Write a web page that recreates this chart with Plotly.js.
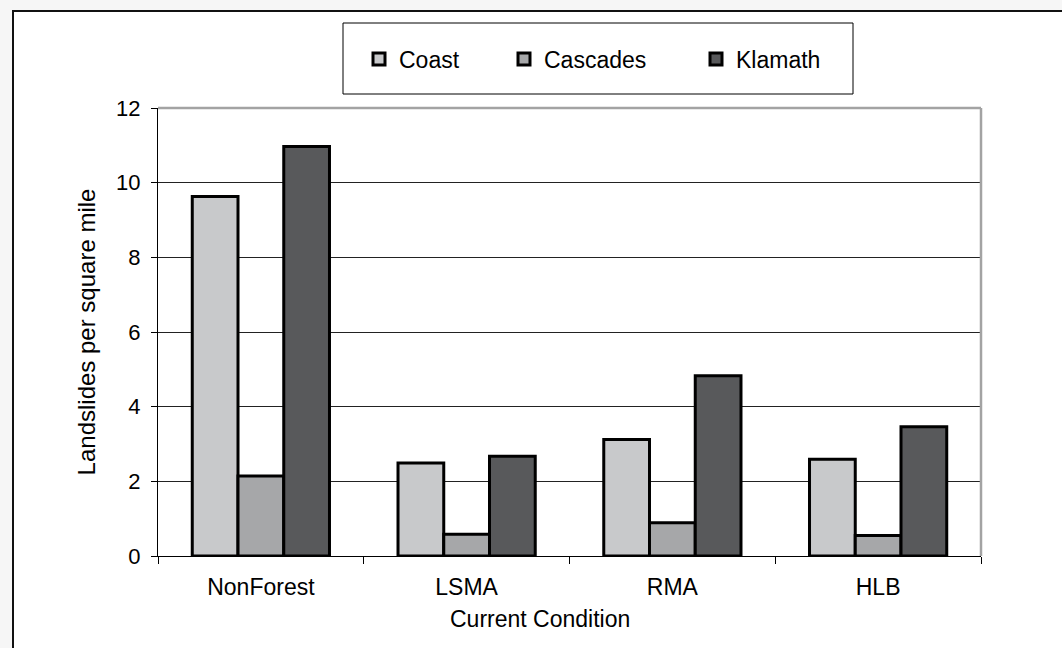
<!DOCTYPE html>
<html>
<head>
<meta charset="utf-8">
<script src="https://cdn.plot.ly/plotly-3.0.1.min.js"></script>
<style>
  html, body { margin: 0; padding: 0; background: #f6f6f6; overflow: hidden; }
  #frame { position: absolute; left: 12px; top: 10px; width: 1100px; height: 700px;
           background: #ffffff; border-top: 2px solid #111; border-left: 2px solid #111; }
  #chart { position: absolute; left: 0; top: 0; width: 1062px; height: 648px; }
</style>
</head>
<body>
<div id="frame"></div>
<div id="chart"></div>
<script>
const categories = ['NonForest', 'LSMA', 'RMA', 'HLB'];
const seriesNames = ['Coast', 'Cascades', 'Klamath'];
const coast = [9.63, 2.49, 3.12, 2.59];
const cascades = [2.14, 0.58, 0.89, 0.55];
const klamath = [10.97, 2.67, 4.83, 3.46];
const yTickValues = [0, 2, 4, 6, 8, 10, 12];
const yTitle = 'Landslides per square mile';
const xTitle = 'Current Condition';

const colors = ['#c8c9cb', '#a6a7a9', '#58595b'];
const values = [coast, cascades, klamath];
const legendIds = ['legend', 'legend2', 'legend3'];

const FONT = 'Liberation Sans, Arial, Helvetica, sans-serif';

// plot area in pixels
const L = 158, R = 81, T = 108, B = 92;
const W = 1062, H = 648;
const pw = W - L - R, ph = H - T - B;
const px = x => (x - L) / pw;
const py = y => (H - B - y) / ph;

const traces = seriesNames.map((name, i) => ({
  type: 'bar',
  name: name,
  x: categories,
  y: values[i],
  legend: legendIds[i],
  marker: { color: colors[i], line: { color: '#000', width: 3 } },
  hoverinfo: 'x+y+name'
}));

const legendX = [379, 524, 716];
const legendCommon = {
  orientation: 'h', xanchor: 'left', yanchor: 'middle',
  bgcolor: 'rgba(0,0,0,0)', borderwidth: 0,
  font: { family: FONT, size: 23, color: '#000' }
};

const layout = {
  width: W, height: H,
  margin: { l: L, r: R, t: T, b: B, pad: 0 },
  paper_bgcolor: 'rgba(0,0,0,0)',
  plot_bgcolor: 'rgba(0,0,0,0)',
  font: { family: FONT, color: '#000' },
  barmode: 'group',
  bargap: 0.333,
  bargroupgap: 0,
  showlegend: true,
  legend: Object.assign({}, legendCommon, { x: px(legendX[0] - 20), y: py(59) }),
  legend2: Object.assign({}, legendCommon, { x: px(legendX[1] - 20), y: py(59) }),
  legend3: Object.assign({}, legendCommon, { x: px(legendX[2] - 20), y: py(59) }),
  xaxis: {
    type: 'category',
    showline: true, linecolor: '#000', linewidth: 1,
    ticks: 'outside', tickson: 'boundaries', ticklen: 7, tickcolor: '#000', tickwidth: 1,
    showgrid: false, zeroline: false,
    tickfont: { family: FONT, size: 23, color: '#000' },
    ticklabelstandoff: 10,
    fixedrange: true
  },
  yaxis: {
    range: [0, 12],
    tickvals: yTickValues,
    ticktext: yTickValues.map(String),
    showline: true, linecolor: '#000', linewidth: 1,
    ticks: 'outside', ticklen: 6, tickcolor: '#000', tickwidth: 1,
    showgrid: true, gridcolor: '#222', gridwidth: 1,
    zeroline: false,
    tickfont: { family: FONT, size: 22, color: '#000' },
    ticklabelstandoff: 6,
    title: { text: yTitle, font: { family: FONT, size: 24, color: '#000' }, standoff: 13 },
    fixedrange: true
  },
  annotations: [{
    text: xTitle, xref: 'paper', yref: 'paper',
    x: px(540), y: py(619), xanchor: 'center', yanchor: 'middle',
    showarrow: false, font: { family: FONT, size: 23, color: '#000' }
  }],
  shapes: [
    // legend box
    { type: 'rect', xref: 'paper', yref: 'paper', x0: px(343), x1: px(853), y0: py(94), y1: py(23),
      line: { color: '#000', width: 1 }, fillcolor: 'rgba(0,0,0,0)', layer: 'below' },
    // gray top border of plot area
    { type: 'line', xref: 'paper', yref: 'paper', x0: 0, x1: 1, y0: 1, y1: 1,
      line: { color: '#a3a3a3', width: 2.5 } },
    // gray right border of plot area
    { type: 'line', xref: 'paper', yref: 'paper', x0: 1, x1: 1, y0: 0, y1: 1,
      line: { color: '#a3a3a3', width: 2.5 } }
  ]
};

Plotly.newPlot('chart', traces, layout, { displayModeBar: false, responsive: false });
</script>
</body>
</html>
